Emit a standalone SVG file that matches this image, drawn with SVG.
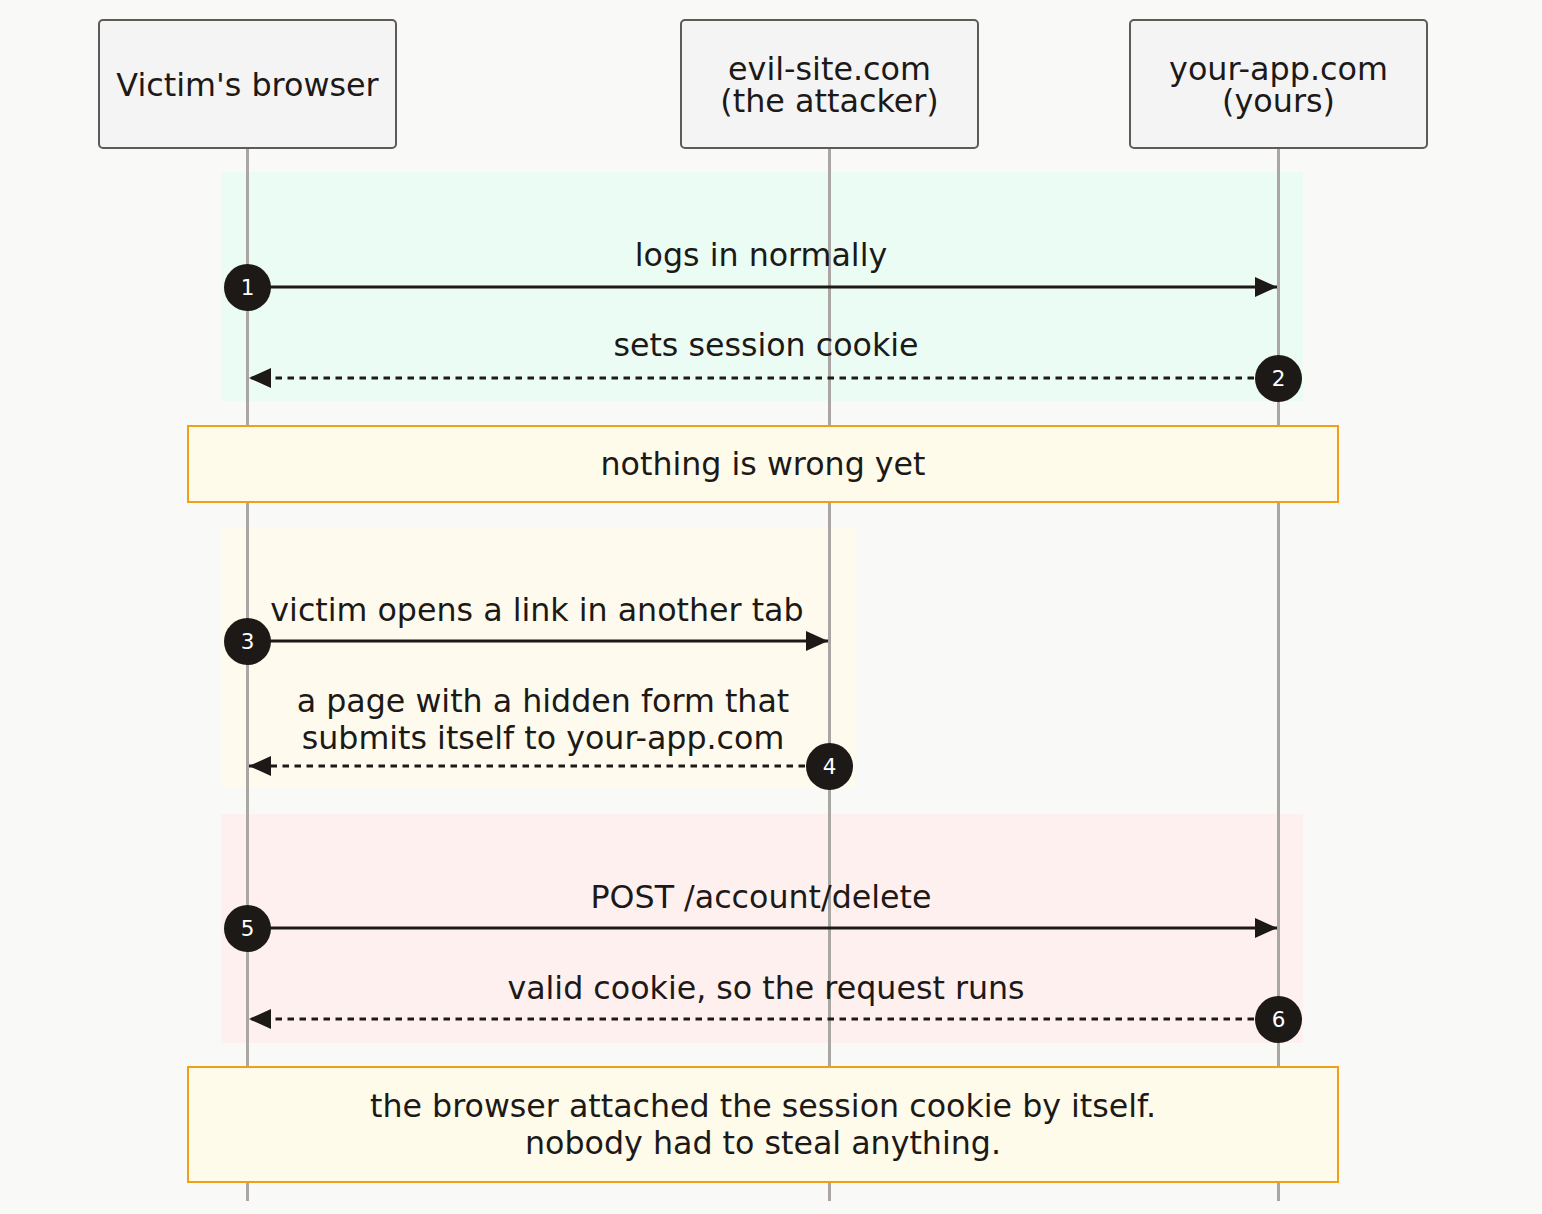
<svg xmlns="http://www.w3.org/2000/svg" width="1542" height="1214" viewBox="0 0 1542 1214">
<style>
text{font-family:"DejaVu Sans",sans-serif;fill:#1c1917}
.actor{fill:#f4f4f4;stroke:#5f5a57;stroke-width:2}
.at{font-size:31.8px;text-anchor:middle}
.life{stroke:#aaa6a3;stroke-width:3}
.msg{stroke:#1c1917;stroke-width:3;fill:none}
.dash{stroke-dasharray:6.5,5.5}
.ml{font-size:31.7px;text-anchor:middle}
.note{fill:#fefbeb;stroke:#f29f18;stroke-width:2}
.num circle{fill:#1c1917}
.num text{fill:#ffffff;font-size:21.5px;text-anchor:middle}
</style>
<defs>
<marker id="ah" viewBox="0 0 22 20" refX="22" refY="10" markerWidth="22" markerHeight="20" markerUnits="userSpaceOnUse" orient="auto">
<path d="M0,0 L22,10 L0,20 Z" fill="#1c1917"/>
</marker>
</defs>
<rect width="1542" height="1214" fill="#f9f9f7"/>
<g id="boxes">
<rect x="222" y="172" width="1081" height="229" fill="#eafcf3"/>
<rect x="222" y="528" width="633" height="260" fill="#fefbee"/>
<rect x="221" y="814" width="1082" height="229" fill="#fff0f0"/>
</g>
<g id="lifelines">
<line class="life" x1="247.5" y1="148" x2="247.5" y2="1201"/>
<line class="life" x1="829.5" y1="148" x2="829.5" y2="1201"/>
<line class="life" x1="1278.5" y1="148" x2="1278.5" y2="1201"/>
</g>
<g id="victim">
<rect class="actor" x="99" y="20" width="297" height="128" rx="4"/>
<text class="at" x="247.5" y="96">Victim's browser</text>
</g>
<g id="evil">
<rect class="actor" x="681" y="20" width="297" height="128" rx="4"/>
<text class="at" x="829.5" y="80">evil-site.com</text>
<text class="at" x="829.5" y="112">(the attacker)</text>
</g>
<g id="app">
<rect class="actor" x="1130" y="20" width="297" height="128" rx="4"/>
<text class="at" x="1278.5" y="80">your-app.com</text>
<text class="at" x="1278.5" y="112">(yours)</text>
</g>
<g id="note1">
<rect class="note" x="188" y="426" width="1150" height="76"/>
<text class="ml" x="763" y="475">nothing is wrong yet</text>
</g>
<g id="note2">
<rect class="note" x="188" y="1067" width="1150" height="115"/>
<text class="ml" x="763" y="1117">the browser attached the session cookie by itself.</text>
<text class="ml" x="763" y="1154">nobody had to steal anything.</text>
</g>
<g id="connectors">
<line class="msg" x1="247" y1="287" x2="1277" y2="287" marker-end="url(#ah)"/>
<text class="ml" x="761" y="266">logs in normally</text>
<line class="msg dash" x1="1278" y1="378" x2="249" y2="378" marker-end="url(#ah)"/>
<text class="ml" x="766" y="356">sets session cookie</text>
<line class="msg" x1="247" y1="641" x2="828" y2="641" marker-end="url(#ah)"/>
<text class="ml" x="537" y="621">victim opens a link in another tab</text>
<line class="msg dash" x1="829" y1="766" x2="249" y2="766" marker-end="url(#ah)"/>
<text class="ml" x="543" y="712">a page with a hidden form that</text>
<text class="ml" x="543" y="749">submits itself to your-app.com</text>
<line class="msg" x1="247" y1="928" x2="1277" y2="928" marker-end="url(#ah)"/>
<text class="ml" x="761" y="908">POST /account/delete</text>
<line class="msg dash" x1="1278" y1="1019" x2="249" y2="1019" marker-end="url(#ah)"/>
<text class="ml" x="766" y="999">valid cookie, so the request runs</text>
</g>
<g id="numbers" class="num">
<circle cx="247.5" cy="287.5" r="23.5"/><text x="247.5" y="295">1</text>
<circle cx="1278.5" cy="378.5" r="23.5"/><text x="1278.5" y="386">2</text>
<circle cx="247.5" cy="641.5" r="23.5"/><text x="247.5" y="649">3</text>
<circle cx="829.5" cy="766.5" r="23.5"/><text x="829.5" y="774">4</text>
<circle cx="247.5" cy="928.5" r="23.5"/><text x="247.5" y="936">5</text>
<circle cx="1278.5" cy="1019.5" r="23.5"/><text x="1278.5" y="1027">6</text>
</g>
</svg>
